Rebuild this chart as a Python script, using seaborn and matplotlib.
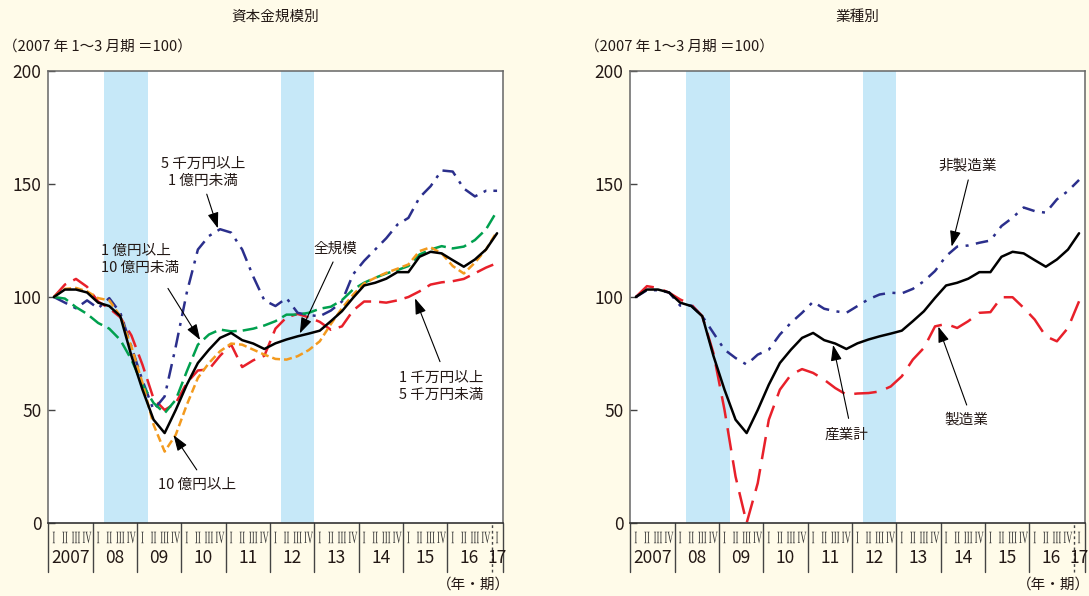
import numpy as np
import pandas as pd
import matplotlib.pyplot as plt
import matplotlib.transforms as mtransforms
from matplotlib.textpath import TextPath
from matplotlib.patches import PathPatch
from matplotlib.font_manager import FontProperties
import seaborn as sns

sns.set_theme(style="white")
plt.rcParams["font.family"] = ["Noto Sans CJK JP", "DejaVu Sans"]

# =========================
# DATA (2007 Q1 = 100, 2007Q1 .. 2017Q1)
# =========================
year_labels = ["2007", "08", "09", "10", "11", "12", "13", "14", "15", "16", "17"]
quarter_labels = ["I", "II", "III", "IV"]

all_sizes = [100, 103.3, 103.3, 102, 97.5, 96, 91.5, 74, 59, 45.7, 39.8, 50, 61.2, 70.8,
             76.7, 81.9, 84.1, 80.9, 79.4, 77, 79.5, 81.2, 82.6, 83.8, 85.1, 89.3, 93.7,
             99.6, 105.1, 106.3, 108.1, 111, 111, 117.8, 120, 119.3, 116.3, 113.4, 116.6,
             121, 128.2]
over_1bn = [100, 103.6, 104, 102.5, 99.5, 98.5, 91.5, 78, 62, 43.5, 31.6, 39, 52.3, 64.2,
            70.8, 76, 79.4, 78.9, 76.7, 74.5, 72.6, 72.3, 73.8, 76.5, 80.4, 88, 95, 101,
            106, 108.5, 110.7, 112.5, 114.4, 120.3, 122, 119.3, 113.7, 110.4, 115.2, 121, 129]
from_100m = [100, 99.3, 95.5, 92.5, 88.5, 86, 81, 72.3, 61.2, 53.1, 48.6, 54.5, 67.1, 78.9,
             83.4, 85.6, 84.8, 85.1, 86, 87.4, 89.3, 92.2, 92.2, 93, 94.8, 95.7, 98.6, 103.3,
             106.3, 108.5, 110.4, 111.9, 113.7, 118.8, 121, 122.5, 121.5, 122.3, 125.2,
             129.9, 138.1]
from_50m = [100, 97.5, 95, 98.5, 95, 99.5, 93, 78, 63, 50, 56, 78, 102, 121, 127, 130,
            128.5, 121, 109, 98.5, 96, 99.5, 93, 92, 91.5, 94, 98, 110, 116, 121, 126, 132,
            135, 144, 149, 156, 155.5, 148, 144.5, 147, 147]
from_10m = [100, 105.5, 108, 104.5, 98, 95, 91, 83, 70, 55, 50, 53, 62, 67.5, 68, 74, 79,
            69, 72, 74, 86, 91, 92.5, 91, 89, 85.5, 87, 94, 98, 98, 97.5, 98.5, 100, 102.5,
            105.5, 106.5, 107, 108, 110.5, 113, 115]

manufacturing = [100, 104.8, 104, 101.9, 98.9, 96.7, 91.5, 75.2, 50.1, 20.5, 0, 17.6, 45.7,
                 59, 65.6, 68.1, 66.4, 63.4, 59.7, 56.8, 57.3, 57.5, 58.2, 60.4, 64.9, 72.3,
                 77.5, 87, 88.1, 86.3, 89.3, 93, 93.3, 99.9, 99.9, 95.2, 90, 82.6, 80.4,
                 86.3, 98.1]
non_manufacturing = [100, 103, 103, 102, 96.2, 96.2, 91.5, 84.1, 76.7, 73, 70.1, 74.5, 76.7,
                     83.4, 88.6, 93, 97.9, 94.8, 93.7, 93, 96, 99, 101.1, 101.9, 101.6, 103.6,
                     107, 111.5, 118.1, 122.3, 122.8, 124, 125, 131.4, 135.1, 139.6, 138,
                     137.3, 143.2, 146.9, 151.8]
all_industries = all_sizes

# shaded periods (quarter index start, end)
shade_periods = [(5, 9), (21, 24)]

# =========================
# STYLE
# =========================
BG = "#FFFBE9"
BAND = "#C6E8F8"
TXT = "#231815"
NAVY = "#2B2F8C"
RED = "#E8202A"
GREEN = "#00A04E"
ORANGE = "#F39A1E"


def long_frame(series):
    rows = []
    for name, vals in series.items():
        for i, v in enumerate(vals):
            rows.append({"x": i + 0.5, "value": v, "series": name})
    return pd.DataFrame(rows)


roman_font = FontProperties(family="Liberation Serif")


def quarter_mark(fig, ax, xc, yc, s, height_px=11.5, squeeze=0.5):
    # narrow serif numerals, squeezed horizontally to fit a quarter cell
    tp = TextPath((0, 0), s, size=10, prop=roman_font)
    ext = tp.get_extents()
    sy = height_px / ext.height
    sx = sy * squeeze
    tr = (mtransforms.Affine2D()
          .translate(-(ext.x0 + ext.x1) / 2, -(ext.y0 + ext.y1) / 2)
          .scale(sx, sy)
          + mtransforms.ScaledTranslation(xc, yc, ax.transData))
    fig.add_artist(PathPatch(tp, transform=tr, facecolor="#333333",
                             edgecolor="none", clip_on=False))


def setup_axis(fig, ax):
    n = len(all_sizes)
    ax.set_facecolor("white")
    for a, b in shade_periods:
        ax.axvspan(a, b, color=BAND, lw=0, zorder=0)
    ax.set_xlim(0, n)
    ax.set_ylim(0, 200)
    ax.set_xlabel("")
    ax.set_ylabel("")
    ax.set_xticks([])
    ax.set_yticks([0, 50, 100, 150, 200])
    ax.tick_params(axis="y", direction="in", length=5, width=1, color="#444444",
                   left=True, labelsize=12.5, labelcolor=TXT, pad=5)
    for side in ["top", "right", "left"]:
        ax.spines[side].set_color("#666666")
        ax.spines[side].set_linewidth(1.1)
    ax.spines["bottom"].set_color("#333333")
    ax.spines["bottom"].set_linewidth(1.2)

    # year separators below the axis
    for k in range(0, n, 4):
        ls = "-" if k < 40 else (0, (2, 2))
        ax.axvline(k, ymin=-0.108, ymax=0, color="#444444", lw=1, ls=ls, clip_on=False)
    ax.axvline(n, ymin=-0.108, ymax=0, color="#444444", lw=1, clip_on=False)

    for i in range(n):
        quarter_mark(fig, ax, i + 0.5, -6.4, quarter_labels[i % 4])
    for k, lab in enumerate(year_labels):
        xc = 4 * k + 2 if k < 10 else 40.5
        ax.text(xc, -15.3, lab, ha="center", va="center", fontsize=12.5,
                color=TXT, clip_on=False)


def label_arrow(ax, text, text_xy, tail, head, ha="center"):
    ax.text(*text_xy, text, ha=ha, va="center", fontsize=10.5, linespacing=1.3,
            color=TXT, multialignment=ha if ha != "center" else "center")
    ax.annotate("", xy=head, xytext=tail,
                arrowprops=dict(arrowstyle="-|>,head_length=0.8,head_width=0.28",
                                color="black", lw=0.8, mutation_scale=12,
                                shrinkA=0, shrinkB=0))


fig = plt.figure(figsize=(10.89, 5.96), dpi=100, facecolor=BG)
ax1 = fig.add_axes([48.3 / 1089, 73 / 596, 454.3 / 1089, 452 / 596])
ax2 = fig.add_axes([630.3 / 1089, 73 / 596, 454.3 / 1089, 452 / 596])

# =========================
# LEFT: by capital size
# =========================
left_series = {
    "1千万円以上5千万円未満": from_10m,
    "5千万円以上1億円未満": from_50m,
    "1億円以上10億円未満": from_100m,
    "10億円以上": over_1bn,
    "全規模": all_sizes,
}
left_palette = {"1千万円以上5千万円未満": RED, "5千万円以上1億円未満": NAVY,
                "1億円以上10億円未満": GREEN, "10億円以上": ORANGE, "全規模": "black"}
left_dashes = {"1千万円以上5千万円未満": (7.2, 3.2), "5千万円以上1億円未満": (6, 2.8, 1.2, 2.8),
               "1億円以上10億円未満": (6, 2.4), "10億円以上": (3.2, 1.6), "全規模": ""}
df_left = long_frame(left_series)
sns.lineplot(data=df_left, x="x", y="value", hue="series", style="series",
             hue_order=list(left_series), style_order=list(left_series),
             palette=left_palette, dashes=left_dashes, estimator=None, errorbar=None,
             linewidth=1.8, legend=False, ax=ax1)
setup_axis(fig, ax1)

label_arrow(ax1, "5 千万円以上\n1 億円未満", (14.0, 155.3), (14.3, 145.5), (15.3, 130.4))
label_arrow(ax1, "1 億円以上\n10 億円未満", (4.8, 116.5), (10.8, 103.8), (13.7, 81.0), ha="left")
label_arrow(ax1, "全規模", (25.9, 121.2), (25.7, 115.5), (22.7, 83.9))
label_arrow(ax1, "1 千万円以上\n5 千万円未満", (35.5, 60.6), (35.35, 71.4), (33.1, 99.4))
label_arrow(ax1, "10 億円以上", (13.4, 16.8), (13.4, 23.5), (11.3, 38.9))

# =========================
# RIGHT: by industry
# =========================
right_series = {
    "製造業": manufacturing,
    "非製造業": non_manufacturing,
    "産業計": all_industries,
}
right_palette = {"製造業": RED, "非製造業": NAVY, "産業計": "black"}
right_dashes = {"製造業": (9, 4), "非製造業": (5, 3, 1.2, 3), "産業計": ""}
df_right = long_frame(right_series)
sns.lineplot(data=df_right, x="x", y="value", hue="series", style="series",
             hue_order=list(right_series), style_order=list(right_series),
             palette=right_palette, dashes=right_dashes, estimator=None, errorbar=None,
             linewidth=1.8, legend=False, ax=ax2)
setup_axis(fig, ax2)

label_arrow(ax2, "非製造業", (30.4, 158.4), (30.5, 151.8), (29.0, 122.3))
label_arrow(ax2, "産業計", (19.5, 38.9), (19.7, 46.3), (18.3, 78.8))
label_arrow(ax2, "製造業", (30.3, 45.6), (30.36, 52.2), (27.8, 86.9))

# =========================
# TITLES
# =========================
def fig_text(x, y, s, **kw):
    fig.text(x / 1089, 1 - y / 596, s, color=TXT, va="center", **kw)


fig_text(275, 17, "資本金規模別", ha="center", fontsize=10.5)
fig_text(857, 17, "業種別", ha="center", fontsize=10.5)
fig_text(3, 47, "（2007 年 1〜3 月期 ＝100）", ha="left", fontsize=10.5)
fig_text(585, 47, "（2007 年 1〜3 月期 ＝100）", ha="left", fontsize=10.5)
fig_text(510, 585, "（年・期）", ha="right", fontsize=10.5)
fig_text(1090, 585, "（年・期）", ha="right", fontsize=10.5)

fig.savefig("out.png", dpi=100, facecolor=fig.get_facecolor())
